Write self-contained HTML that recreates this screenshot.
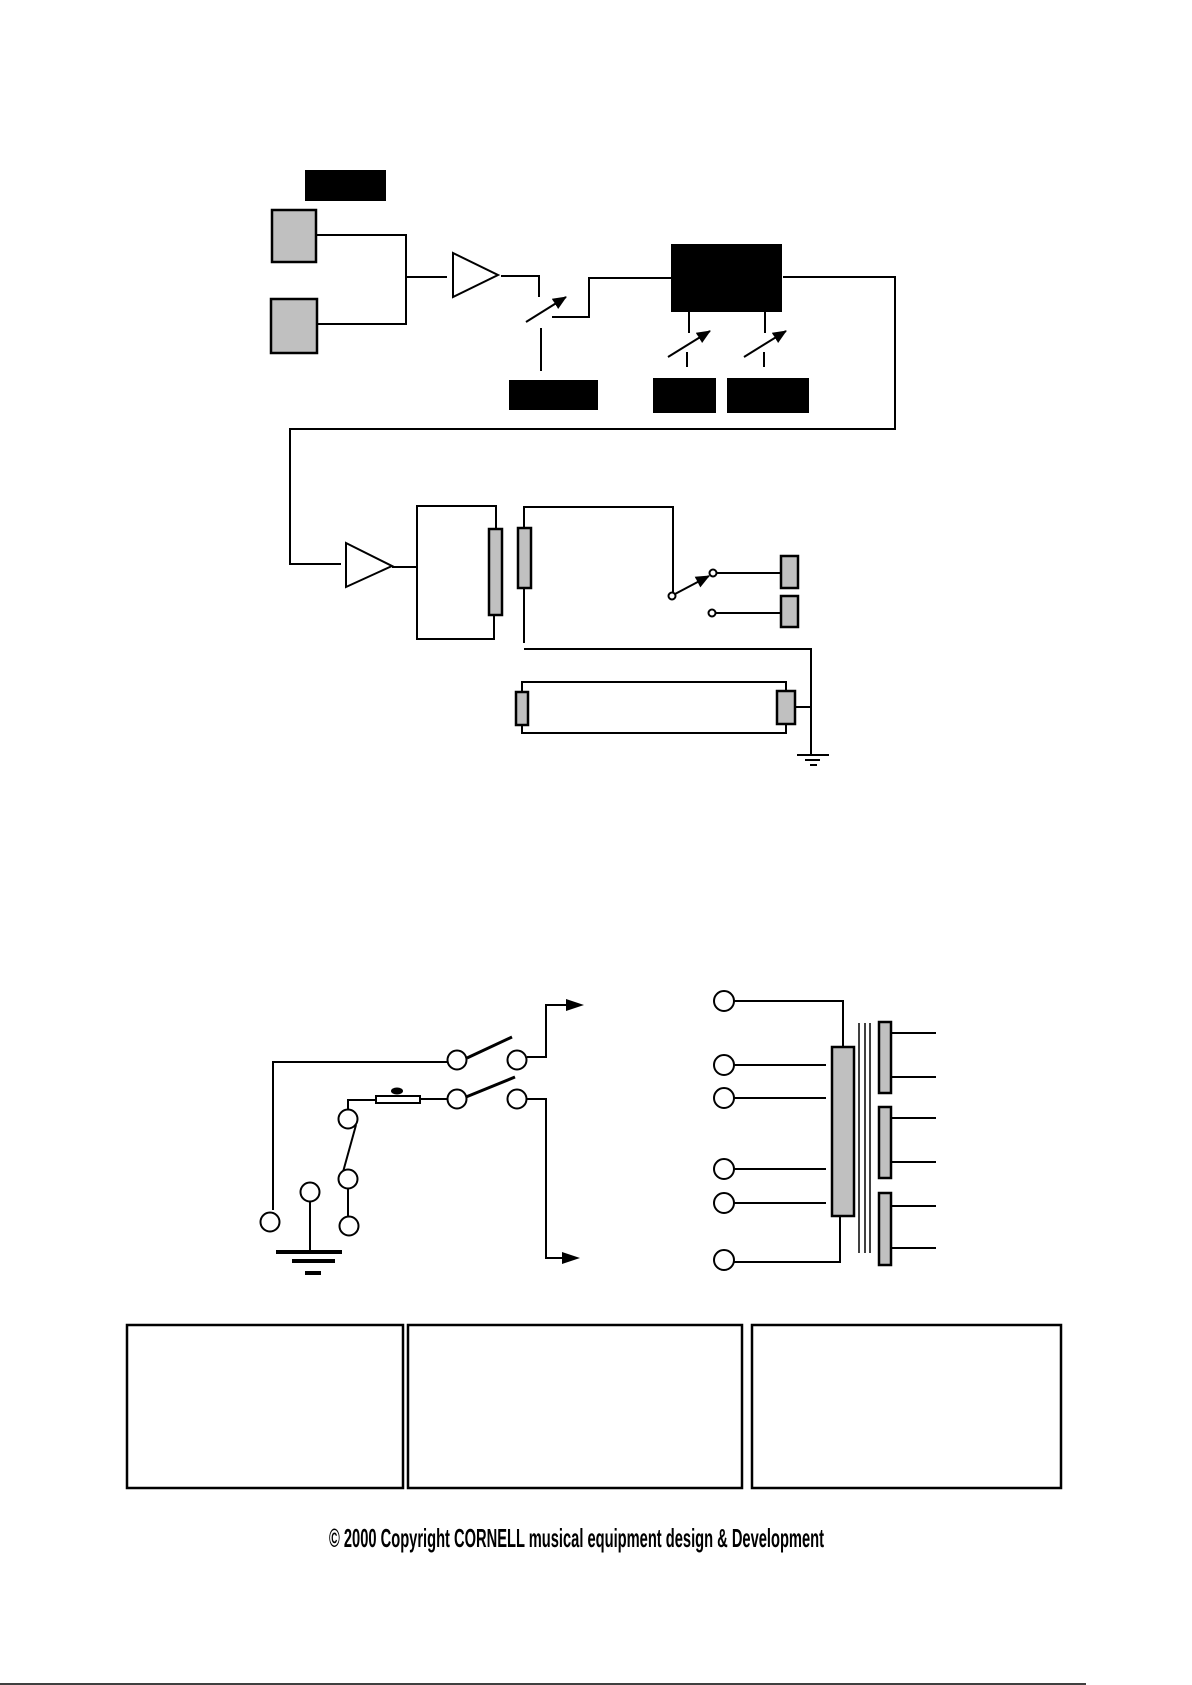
<!DOCTYPE html>
<html><head><meta charset="utf-8"><style>html,body{margin:0;padding:0;background:#fff}svg{display:block}</style></head>
<body>
<svg width="1192" height="1685" viewBox="0 0 1192 1685" xmlns="http://www.w3.org/2000/svg">
<defs>
<marker id="ah" markerWidth="14" markerHeight="12" refX="13" refY="6" orient="auto" markerUnits="userSpaceOnUse" viewBox="0 0 14 12"><path d="M0,0 L14,6 L0,12 z" fill="#000"/></marker>
</defs>
<g fill="none" stroke="#000" stroke-width="2">
<rect x="305" y="170" width="81" height="31" fill="#000" stroke="none"/>
<rect x="272" y="210" width="44" height="52" fill="#c0c0c0" stroke-width="2.5"/>
<rect x="271" y="299" width="46" height="54" fill="#c0c0c0" stroke-width="2.5"/>
<polyline points="316,235 406,235 406,324 317,324"/>
<line x1="406" y1="277" x2="447" y2="277"/>
<polygon points="453,253 498,275 453,297" fill="#fff"/>
<polyline points="501,276 539,276 539,297"/>
<line x1="526" y1="322" x2="566" y2="297" marker-end="url(#ah)"/>
<polyline points="552,317 589,317 589,278 671,278"/>
<line x1="541" y1="328" x2="541" y2="371"/>
<rect x="509" y="380" width="89" height="30" fill="#000" stroke="none"/>
<rect x="671" y="244" width="111" height="68" fill="#000" stroke="none"/>
<polyline points="783,277 895,277 895,429 290,429 290,564 341,564"/>
<line x1="689" y1="312" x2="689" y2="333"/>
<line x1="687" y1="352" x2="687" y2="367"/>
<line x1="668" y1="357" x2="710" y2="331" marker-end="url(#ah)"/>
<line x1="765" y1="312" x2="765" y2="333"/>
<line x1="764" y1="352" x2="764" y2="367"/>
<line x1="744" y1="357" x2="786" y2="331" marker-end="url(#ah)"/>
<rect x="653" y="378" width="63" height="35" fill="#000" stroke="none"/>
<rect x="727" y="378" width="82" height="35" fill="#000" stroke="none"/>
<polygon points="346,543 392,566 346,587" fill="#fff"/>
<line x1="392" y1="567" x2="417" y2="567"/>
<polyline points="496,529 496,506 417,506 417,639 494,639 494,614"/>
<rect x="489" y="529" width="13" height="86" fill="#c0c0c0" stroke-width="2.5"/>
<rect x="518" y="528" width="13" height="60" fill="#c0c0c0" stroke-width="2.5"/>
<polyline points="524,528 524,507 673,507 673,593"/>
<circle cx="672" cy="596" r="3.5" fill="#fff"/>
<line x1="675" y1="594" x2="709" y2="576" marker-end="url(#ah)"/>
<circle cx="713" cy="573" r="3.5" fill="#fff"/>
<line x1="716" y1="573" x2="781" y2="573"/>
<rect x="781" y="556" width="17" height="32" fill="#c0c0c0" stroke-width="2.5"/>
<circle cx="712" cy="613" r="3.5" fill="#fff"/>
<line x1="715" y1="613" x2="781" y2="613"/>
<rect x="781" y="596" width="17" height="31" fill="#c0c0c0" stroke-width="2.5"/>
<line x1="524" y1="588" x2="524" y2="643"/>
<polyline points="524,649 811,649 811,755"/>
<polyline points="522,692 522,682 786,682 786,691"/>
<polyline points="522,725 522,733 786,733 786,724"/>
<rect x="516" y="692" width="12" height="33" fill="#c0c0c0" stroke-width="2.5"/>
<rect x="777" y="691" width="18" height="33" fill="#c0c0c0" stroke-width="2.5"/>
<line x1="795" y1="707" x2="811" y2="707"/>
<line x1="797" y1="755" x2="829" y2="755"/>
<line x1="805" y1="760" x2="820" y2="760"/>
<line x1="810" y1="765" x2="817" y2="765"/>
<polyline points="273,1210 273,1062 448,1062"/>
<circle cx="270" cy="1222" r="9.5" fill="#fff"/>
<circle cx="310" cy="1192" r="9.5" fill="#fff"/>
<line x1="310" y1="1202" x2="310" y2="1252"/>
<line x1="276" y1="1252" x2="342" y2="1252" stroke-width="4"/>
<line x1="292" y1="1261" x2="335" y2="1261" stroke-width="4"/>
<line x1="305" y1="1273" x2="321" y2="1273" stroke-width="4"/>
<polyline points="348,1109 348,1100 376,1100"/>
<circle cx="348" cy="1119" r="9.5" fill="#fff"/>
<line x1="356" y1="1125" x2="343" y2="1172"/>
<circle cx="348" cy="1179" r="9.5" fill="#fff"/>
<line x1="348" y1="1189" x2="348" y2="1216"/>
<circle cx="349" cy="1226" r="9.5" fill="#fff"/>
<rect x="376" y="1096" width="44" height="7" fill="#fff"/>
<ellipse cx="397" cy="1091" rx="6" ry="3.5" fill="#000" stroke="none"/>
<line x1="420" y1="1099" x2="447" y2="1099"/>
<circle cx="457" cy="1060" r="9.5" fill="#fff"/>
<circle cx="517" cy="1060" r="9.5" fill="#fff"/>
<line x1="467" y1="1058" x2="512" y2="1037" stroke-width="3"/>
<circle cx="457" cy="1099" r="9.5" fill="#fff"/>
<circle cx="517" cy="1099" r="9.5" fill="#fff"/>
<line x1="466" y1="1097" x2="515" y2="1077" stroke-width="3"/>
<polyline points="527,1057 546,1057 546,1005 575,1005"/>
<polygon points="566,999 584,1005 566,1011" fill="#000" stroke="none"/>
<polyline points="527,1099 546,1099 546,1258 570,1258"/>
<polygon points="562,1252 580,1258 562,1264" fill="#000" stroke="none"/>
<circle cx="724" cy="1001" r="10" fill="#fff"/>
<polyline points="733,1001 843,1001 843,1047"/>
<rect x="832" y="1047" width="22" height="169" fill="#c0c0c0" stroke-width="2.5"/>
<circle cx="724" cy="1065" r="10" fill="#fff"/><line x1="733" y1="1065" x2="826" y2="1065"/>
<circle cx="724" cy="1098" r="10" fill="#fff"/><line x1="733" y1="1098" x2="826" y2="1098"/>
<circle cx="724" cy="1169" r="10" fill="#fff"/><line x1="733" y1="1169" x2="826" y2="1169"/>
<circle cx="724" cy="1203" r="10" fill="#fff"/><line x1="733" y1="1203" x2="826" y2="1203"/>
<circle cx="724" cy="1260" r="10" fill="#fff"/>
<polyline points="733,1262 840,1262 840,1216"/>
<line x1="859" y1="1023" x2="859" y2="1253" stroke-width="1.5"/>
<line x1="865" y1="1023" x2="865" y2="1253" stroke-width="1.5"/>
<line x1="870" y1="1023" x2="870" y2="1253" stroke-width="1.5"/>
<rect x="879" y="1022" width="12" height="71" fill="#c0c0c0" stroke-width="2.5"/>
<rect x="879" y="1107" width="12" height="71" fill="#c0c0c0" stroke-width="2.5"/>
<rect x="879" y="1193" width="12" height="72" fill="#c0c0c0" stroke-width="2.5"/>
<line x1="891" y1="1033" x2="936" y2="1033"/>
<line x1="891" y1="1077" x2="936" y2="1077"/>
<line x1="891" y1="1118" x2="936" y2="1118"/>
<line x1="891" y1="1162" x2="936" y2="1162"/>
<line x1="891" y1="1206" x2="936" y2="1206"/>
<line x1="891" y1="1248" x2="936" y2="1248"/>
<rect x="127" y="1325" width="276" height="163" stroke-width="2.5"/>
<rect x="408" y="1325" width="334" height="163" stroke-width="2.5"/>
<rect x="752" y="1325" width="309" height="163" stroke-width="2.5"/>
<line x1="0" y1="1684" x2="1086" y2="1684" stroke-width="1.5"/>
</g>
<text x="329" y="1547" font-family="Liberation Sans, sans-serif" font-size="26" font-weight="bold" textLength="495" lengthAdjust="spacingAndGlyphs" fill="#000">© 2000 Copyright CORNELL musical equipment design &amp; Development</text>
</svg>
</body></html>
